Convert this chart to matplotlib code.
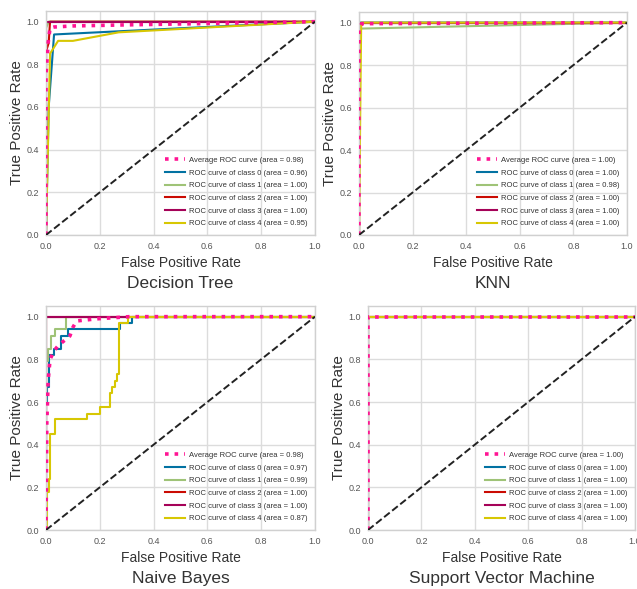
import matplotlib
matplotlib.use("Agg")
import matplotlib.pyplot as plt

plt.rcParams['font.family'] = ['Liberation Sans', 'DejaVu Sans']

# ---------------- data ----------------
titles = ["Decision Tree", "KNN", "Naive Bayes", "Support Vector Machine"]
class_colors = ["#0272a2", "#9fc377", "#ca0b03", "#a50258", "#d7c703"]
avg_color = "#ff1493"

# Decision Tree
dt_avg_x = [0, 0, 0.008, 0.015, 0.03, 0.1, 0.3, 1]
dt_avg_y = [0, 0.75, 0.9, 0.97, 0.975, 0.98, 0.985, 1]
dt_avg_auc = 0.98
dt_fpr = [
    [0, 0.01, 0.03, 1],
    [0, 0, 0.01, 1],
    [0, 0, 0.01, 0.015, 1],
    [0, 0, 1],
    [0, 0.015, 0.045, 0.1, 0.27, 1],
]
dt_tpr = [
    [0, 0.6, 0.94, 1],
    [0, 0.97, 1, 1],
    [0, 0.86, 0.9, 1, 1],
    [0, 1, 1],
    [0, 0.85, 0.91, 0.91, 0.95, 1],
]
dt_auc = [0.96, 1.00, 1.00, 1.00, 0.95]

# KNN
knn_avg_x = [0, 0, 0.01, 1]
knn_avg_y = [0, 0.97, 0.995, 1]
knn_avg_auc = 1.00
knn_fpr = [
    [0, 0, 0.005, 1],
    [0, 0, 0.01, 1],
    [0, 0, 1],
    [0, 0, 1],
    [0, 0.008, 0.01, 1],
]
knn_tpr = [
    [0, 0.97, 1, 1],
    [0, 0.97, 0.972, 1],
    [0, 1, 1],
    [0, 1, 1],
    [0, 0.98, 1, 1],
]
knn_auc = [1.00, 0.98, 1.00, 1.00, 1.00]

# Naive Bayes
nb_avg_x = [0, 0.003, 0.008, 0.015, 0.03, 0.046, 0.07, 0.089, 0.1, 0.114, 0.19, 0.31, 1]
nb_avg_y = [0, 0.5, 0.7, 0.8, 0.84, 0.865, 0.89, 0.91, 0.95, 0.98, 0.99, 1.0, 1.0]
nb_avg_auc = 0.98
nb_fpr = [
    [0, 0, 0.005, 0.005, 0.012, 0.012, 0.03, 0.03, 0.055, 0.055, 0.083, 0.083,
     0.275, 0.275, 0.32, 0.32, 1],
    [0, 0, 0.008, 0.008, 0.02, 0.02, 0.035, 0.035, 0.073, 0.073, 1],
    [0, 0, 1],
    [0, 0, 1],
    [0, 0.003, 0.003, 0.012, 0.012, 0.015, 0.015, 0.033, 0.033, 0.151, 0.151,
     0.2, 0.2, 0.238, 0.238, 0.245, 0.245, 0.256, 0.256, 0.263, 0.263, 0.27,
     0.27, 0.306, 0.306, 1],
]
nb_tpr = [
    [0, 0.6, 0.6, 0.67, 0.67, 0.82, 0.82, 0.85, 0.85, 0.91, 0.91, 0.94,
     0.94, 0.97, 0.97, 1, 1],
    [0, 0.79, 0.79, 0.85, 0.85, 0.91, 0.91, 0.94, 0.94, 1, 1],
    [0, 1, 1],
    [0, 1, 1],
    [0, 0, 0.18, 0.18, 0.24, 0.24, 0.45, 0.45, 0.52, 0.52, 0.545,
     0.545, 0.575, 0.575, 0.64, 0.64, 0.67, 0.67, 0.70, 0.70, 0.73, 0.73,
     0.97, 0.97, 1, 1],
]
nb_auc = [0.97, 0.99, 1.00, 1.00, 0.87]

# SVM
svm_avg_x = [0, 0, 1]
svm_avg_y = [0, 1, 1]
svm_avg_auc = 1.00
svm_fpr = [[0, 0, 1]] * 5
svm_tpr = [[0, 1, 1]] * 5
svm_auc = [1.00, 1.00, 1.00, 1.00, 1.00]

panels = [
    (dt_avg_x, dt_avg_y, dt_avg_auc, dt_fpr, dt_tpr, dt_auc),
    (knn_avg_x, knn_avg_y, knn_avg_auc, knn_fpr, knn_tpr, knn_auc),
    (nb_avg_x, nb_avg_y, nb_avg_auc, nb_fpr, nb_tpr, nb_auc),
    (svm_avg_x, svm_avg_y, svm_avg_auc, svm_fpr, svm_tpr, svm_auc),
]

# ---------------- layout ----------------
W, H = 637, 589
fig = plt.figure(figsize=(W / 100, H / 100), dpi=100)
fig.patch.set_facecolor("white")

# axes boxes in pixels: left, top, right, bottom
boxes = [
    (46, 11, 315, 235),
    (359, 12, 627, 235),
    (46, 306, 315, 530),
    (368, 306, 635, 530),
]
ylabel_x = [17, 330, 17, 339]

for i, (box, panel) in enumerate(zip(boxes, panels)):
    l, t, r, b = box
    ax = fig.add_axes([l / W, 1 - b / H, (r - l) / W, (b - t) / H])
    ax.set_facecolor("white")
    avg_x, avg_y, avg_auc, fprs, tprs, aucs = panel

    ax.plot(avg_x, avg_y, color=avg_color, linestyle=":", linewidth=2.6,
            label="Average ROC curve (area = {:.2f})".format(avg_auc), zorder=3)
    for k in range(5):
        ax.plot(fprs[k], tprs[k], color=class_colors[k], linewidth=1.5,
                label="ROC curve of class {} (area = {:.2f})".format(k, aucs[k]),
                zorder=2)
    ax.plot([0, 1], [0, 1], linestyle="--", color="#222222", linewidth=1.4, zorder=4)

    ax.set_xlim(0, 1)
    ax.set_ylim(0, 1.05)
    ax.set_xticks([0, 0.2, 0.4, 0.6, 0.8, 1.0])
    ax.set_yticks([0, 0.2, 0.4, 0.6, 0.8, 1.0])
    ax.set_xticklabels(["0.0", "0.2", "0.4", "0.6", "0.8", "1.0"])
    ax.set_yticklabels(["0.0", "0.2", "0.4", "0.6", "0.8", "1.0"])
    ax.tick_params(axis="both", length=0, labelsize=6.5, labelcolor="#555555", pad=5)
    ax.grid(True, color="#dcdcdc", linewidth=1.0)
    ax.set_axisbelow(True)
    for sp in ax.spines.values():
        sp.set_color("#d0d0d0")
        sp.set_linewidth(1.0)

    ax.set_xlabel("False Positive Rate", fontsize=10, color="#333333")
    ax.xaxis.set_label_coords(0.5, -28 / (b - t))
    ax.xaxis.label.set_va("center")
    ax.set_ylabel("True Positive Rate", fontsize=11, color="#333333")
    ax.yaxis.set_label_coords((ylabel_x[i] - l) / (r - l), 0.5)
    ax.yaxis.label.set_va("center")

    ax.text(0.5, -49 / (b - t), titles[i], transform=ax.transAxes,
            ha="center", va="center", fontsize=12.5, color="#333333")

    ax.legend(loc="lower right", frameon=False, fontsize=5.5, handlelength=2.6,
              handletextpad=0.5, labelspacing=0.7, borderaxespad=0.6,
              labelcolor="#333333")

fig.savefig("out.png", dpi=100)
